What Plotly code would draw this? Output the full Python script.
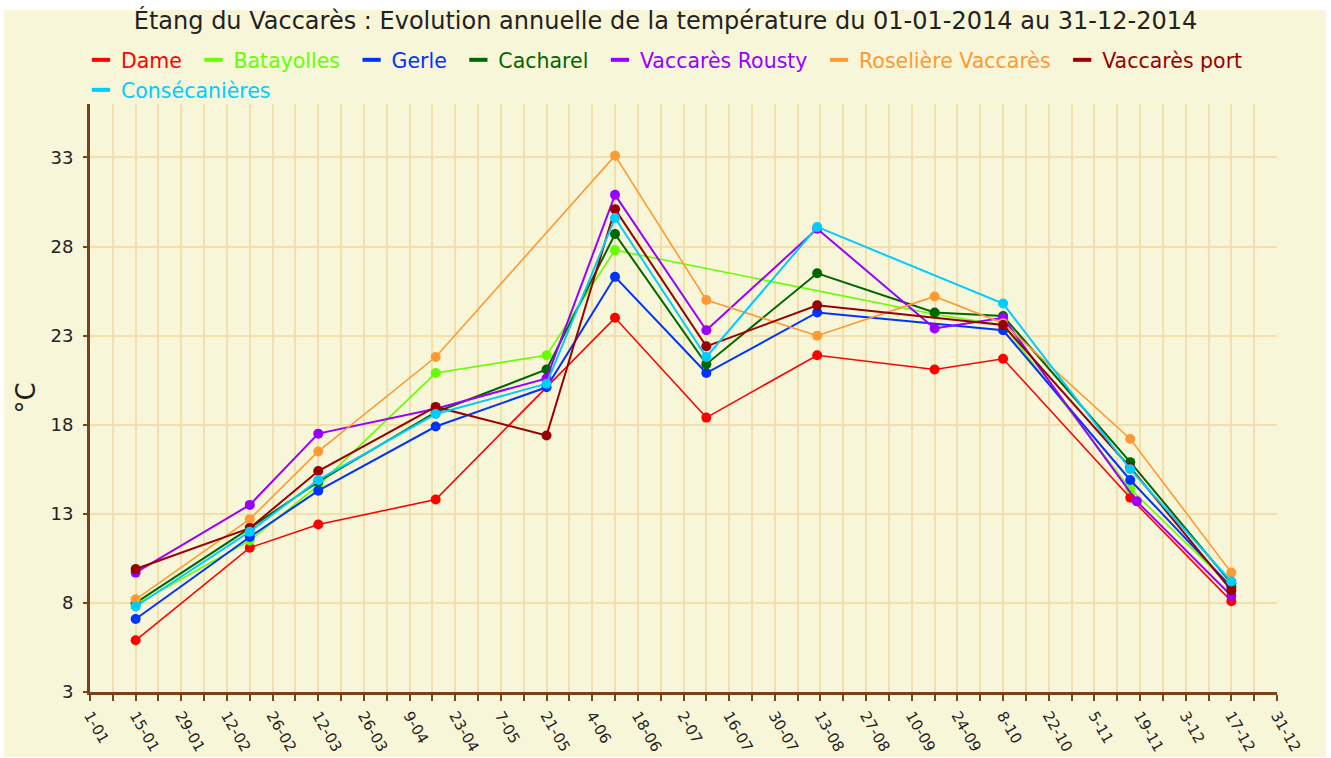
import plotly.graph_objects as go

# ---- data ----
series_names = ["Dame", "Batayolles", "Gerle", "Cacharel", "Vaccarès Rousty",
                "Roselière Vaccarès", "Vaccarès port", "Consécanières"]
series_colors = ["#ff0000", "#66ff00", "#0033ff", "#006600", "#9900ff",
                 "#ff9933", "#990000", "#00ccff"]

dame_dates = ["2014-01-15", "2014-02-19", "2014-03-12", "2014-04-17", "2014-06-11", "2014-07-09",
              "2014-08-12", "2014-09-17", "2014-10-08", "2014-11-16", "2014-12-17"]
dame_vals = [5.9, 11.1, 12.4, 13.8, 24.0, 18.4, 21.9, 21.1, 21.7, 13.9, 8.1]

bata_dates = ["2014-01-15", "2014-02-19", "2014-03-12", "2014-04-17", "2014-05-21", "2014-06-11",
              "2014-09-17", "2014-10-08", "2014-11-16", "2014-12-17"]
bata_vals = [7.9, 11.5, 14.6, 20.9, 21.9, 27.8, 24.2, 23.6, 14.4, 8.9]

gerle_dates = ["2014-01-15", "2014-02-19", "2014-03-12", "2014-04-17", "2014-05-21", "2014-06-11",
               "2014-07-09", "2014-08-12", "2014-10-08", "2014-11-16", "2014-12-17"]
gerle_vals = [7.1, 11.7, 14.3, 17.9, 20.1, 26.3, 20.9, 24.3, 23.3, 14.9, 8.9]

cach_dates = ["2014-01-15", "2014-02-19", "2014-03-12", "2014-04-17", "2014-05-21", "2014-06-11",
              "2014-07-09", "2014-08-12", "2014-09-17", "2014-10-08", "2014-11-16", "2014-12-17"]
cach_vals = [8.0, 12.2, 14.8, 18.7, 21.1, 28.7, 21.4, 26.5, 24.3, 24.1, 15.9, 9.1]

rousty_dates = ["2014-01-15", "2014-02-19", "2014-03-12", "2014-04-17", "2014-05-21", "2014-06-11",
                "2014-07-09", "2014-08-12", "2014-09-17", "2014-10-08", "2014-11-18", "2014-12-17"]
rousty_vals = [9.7, 13.5, 17.5, 18.9, 20.6, 30.9, 23.3, 29.0, 23.4, 24.0, 13.7, 8.4]

roseliere_dates = ["2014-01-15", "2014-02-19", "2014-03-12", "2014-04-17", "2014-06-11", "2014-07-09",
                   "2014-08-12", "2014-09-17", "2014-10-08", "2014-11-16", "2014-12-17"]
roseliere_vals = [8.2, 12.7, 16.5, 21.8, 33.1, 25.0, 23.0, 25.2, 23.7, 17.2, 9.7]

port_dates = ["2014-01-15", "2014-02-19", "2014-03-12", "2014-04-17", "2014-05-21", "2014-06-11",
              "2014-07-09", "2014-08-12", "2014-10-08", "2014-11-16", "2014-12-17"]
port_vals = [9.9, 12.2, 15.4, 19.0, 17.4, 30.1, 22.4, 24.7, 23.6, 15.6, 8.7]

conse_dates = ["2014-01-15", "2014-02-19", "2014-03-12", "2014-04-17", "2014-05-21", "2014-06-11",
               "2014-07-09", "2014-08-12", "2014-10-08", "2014-11-16", "2014-12-17"]
conse_vals = [7.8, 12.0, 14.9, 18.6, 20.3, 29.6, 21.8, 29.1, 24.8, 15.5, 9.2]

all_dates = [dame_dates, bata_dates, gerle_dates, cach_dates, rousty_dates,
             roseliere_dates, port_dates, conse_dates]
all_vals = [dame_vals, bata_vals, gerle_vals, cach_vals, rousty_vals,
            roseliere_vals, port_vals, conse_vals]

title_text = "Étang du Vaccarès : Evolution annuelle de la température du 01-01-2014 au 31-12-2014"
y_ticks = [3, 8, 13, 18, 23, 28, 33]

# ---- style ----
W, H = 1331, 758
ML, MR, MT, MB = 90, 54, 104, 66
PW, PH = W - ML - MR, H - MT - MB
CREAM = "#f8f6d8"
GRID = "#f3dfa9"
AXIS = "#7a4219"
FONT = "DejaVu Sans"
DAY = 86400000
PAD = "\u00a0"

fig = go.Figure()
for i, name in enumerate(series_names):
    c = series_colors[i]
    lw = 1.6 if c in ("#ff0000", "#66ff00", "#ff9933") else 2.0
    fig.add_trace(go.Scatter(
        x=all_dates[i], y=all_vals[i], name=name, mode="lines+markers",
        line=dict(color=c, width=lw), marker=dict(color=c, size=10),
        showlegend=False, legendgroup=name))
    # legend entry (short dash)
    fig.add_trace(go.Scatter(
        x=[None], y=[None], mode="markers", legendgroup=name,
        name="<span style='color:%s'>%s</span>%s" % (c, name, PAD),
        marker=dict(symbol="line-ew", size=13, color=c, line=dict(color=c, width=4)),
        legend="legend2" if i == 7 else "legend"))

fig.add_shape(type="rect", xref="paper", yref="paper", layer="below",
              x0=(4 - ML) / PW, x1=(1326 - ML) / PW,
              y0=(H - MB - 757) / PH, y1=(H - MB - 10) / PH,
              fillcolor=CREAM, line=dict(width=0))

LEG_FONT = 20.5
LEG_X = (81 - ML) / PW
fig.update_layout(
    width=W, height=H,
    margin=dict(l=ML, r=MR, t=MT, b=MB, autoexpand=False),
    paper_bgcolor="white", plot_bgcolor=CREAM,
    font=dict(family=FONT, color="#222222"),
    title=dict(text=title_text, x=0.5, xanchor="center", xref="container",
               y=1 - 12 / H, yanchor="top", yref="container",
               font=dict(size=24, color="#222222", family=FONT)),
    legend=dict(orientation="h", xref="paper", yref="paper",
                x=LEG_X, xanchor="left", y=(H - MB - 40) / PH, yanchor="top",
                bgcolor="rgba(0,0,0,0)", font=dict(size=LEG_FONT, family=FONT),
                itemclick=False, itemdoubleclick=False),
    legend2=dict(orientation="h", xref="paper", yref="paper",
                 x=LEG_X, xanchor="left", y=(H - MB - 70) / PH, yanchor="top",
                 bgcolor="rgba(0,0,0,0)", font=dict(size=LEG_FONT, family=FONT),
                 itemclick=False, itemdoubleclick=False),
    xaxis=dict(type="date", range=["2014-01-01", "2014-12-31"], automargin=False,
               tick0="2014-01-01", dtick=14 * DAY, tickformat="%-d-%m",
               tickangle=60, tickfont=dict(size=15, color="#222222"),
               ticks="outside", ticklen=6, tickwidth=2, tickcolor=AXIS,
               showgrid=True, gridcolor=GRID, gridwidth=1.5,
               minor=dict(dtick=7 * DAY, tick0="2014-01-01", ticks="outside", ticklen=6,
                          tickwidth=2, tickcolor=AXIS, showgrid=True,
                          gridcolor=GRID, gridwidth=1.5),
               showline=True, linecolor=AXIS, linewidth=3, zeroline=False),
    yaxis=dict(range=[3, 36], tickvals=y_ticks, automargin=False,
               tickfont=dict(size=18, color="#222222"), ticklabelstandoff=6,
               ticks="outside", ticklen=4, tickwidth=2, tickcolor=AXIS,
               showgrid=True, gridcolor=GRID, gridwidth=1.5,
               showline=True, linecolor=AXIS, linewidth=3, zeroline=False,
               title=dict(text="°C", font=dict(size=26, color="#222222"), standoff=8)),
)

fig.write_html("out.html", config={"displayModeBar": False},
               post_script="document.body.style.margin='0';document.body.style.overflow='hidden';")
